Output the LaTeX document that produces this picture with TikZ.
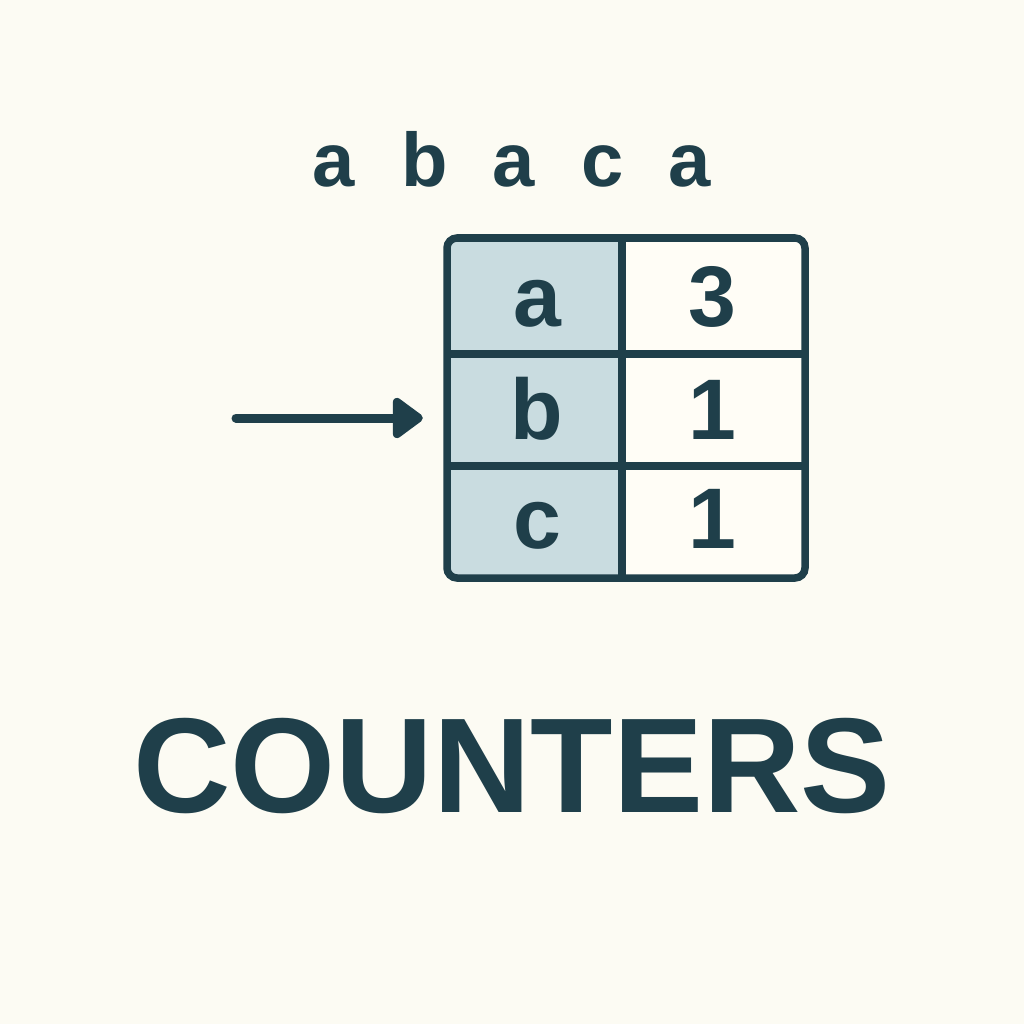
\documentclass[tikz,border=0pt]{standalone}
\usepackage{fontspec}
\setmainfont{Liberation Sans}
\usetikzlibrary{arrows.meta}
\definecolor{ink}{HTML}{1F3F4A}
\definecolor{bg}{HTML}{FCFBF3}
\definecolor{keyfill}{HTML}{C9DCE0}
\definecolor{valfill}{HTML}{FFFDF6}
\tikzset{
  seqletter/.style={anchor=base, text=ink, font=\bfseries\fontsize{76}{80}\selectfont, inner sep=0pt},
  cell/.style={minimum width=#1, minimum height=112pt, inner sep=0pt, text=ink, font=\bfseries\fontsize{86}{90}\selectfont},
  keycell/.style={cell=175pt, fill=keyfill},
  valcell/.style={cell=183pt, fill=valfill},
  celltext/.style={anchor=base, inner sep=0pt, text=ink, font=\bfseries\fontsize{86}{90}\selectfont},
  title/.style={anchor=base, text=ink, font=\bfseries\fontsize{135}{140}\selectfont, inner sep=0pt},
  gridline/.style={ink, line width=7.5pt},
}
\begin{document}
\begin{tikzpicture}[x=1pt,y=-1pt]
\fill[bg] (0,0) rectangle (1024,1024);
\useasboundingbox (0,0) rectangle (1024,1024);
% sequence
\node[seqletter] (s1) at (334,187) {a};
\node[seqletter] (s2) at (425,187) {b};
\node[seqletter] (s3) at (514,187) {a};
\node[seqletter] (s4) at (603,187) {c};
\node[seqletter] (s5) at (690,187) {a};
% table cells (fills)
\node[keycell] (ka) at (534.5,296) {};
\node[keycell] (kb) at (534.5,410) {};
\node[keycell] (kc) at (534.5,522) {};
\node[valcell] (va) at (713.5,296) {};
\node[valcell] (vb) at (713.5,410) {};
\node[valcell] (vc) at (713.5,522) {};
% cell texts
\node[celltext] (ta) at (537,326) {a};
\node[celltext] (tb) at (537,439) {b};
\node[celltext] (tc) at (537,548) {c};
\node[celltext] (n3) at (712,326) {3};
\node[celltext] (n1) at (712,439) {1};
\node[celltext] (n2) at (712,548) {1};
% grid
\draw[gridline] (622,238) -- (622,578);
\draw[gridline] (447,354) -- (805,354);
\draw[gridline] (447,466) -- (805,466);
\draw[gridline, rounded corners=10pt] (447,238) rectangle (805,578);
% arrow
\coordinate (astart) at (236,418);
\draw[ink, line width=9pt, line cap=round, -{Triangle[length=33pt,width=46pt,round]}] (astart) -- ([xshift=-24pt]kb.west |- astart);
% title
\node[title] (t) at (512,812) {COUNTERS};
\end{tikzpicture}
\end{document}
